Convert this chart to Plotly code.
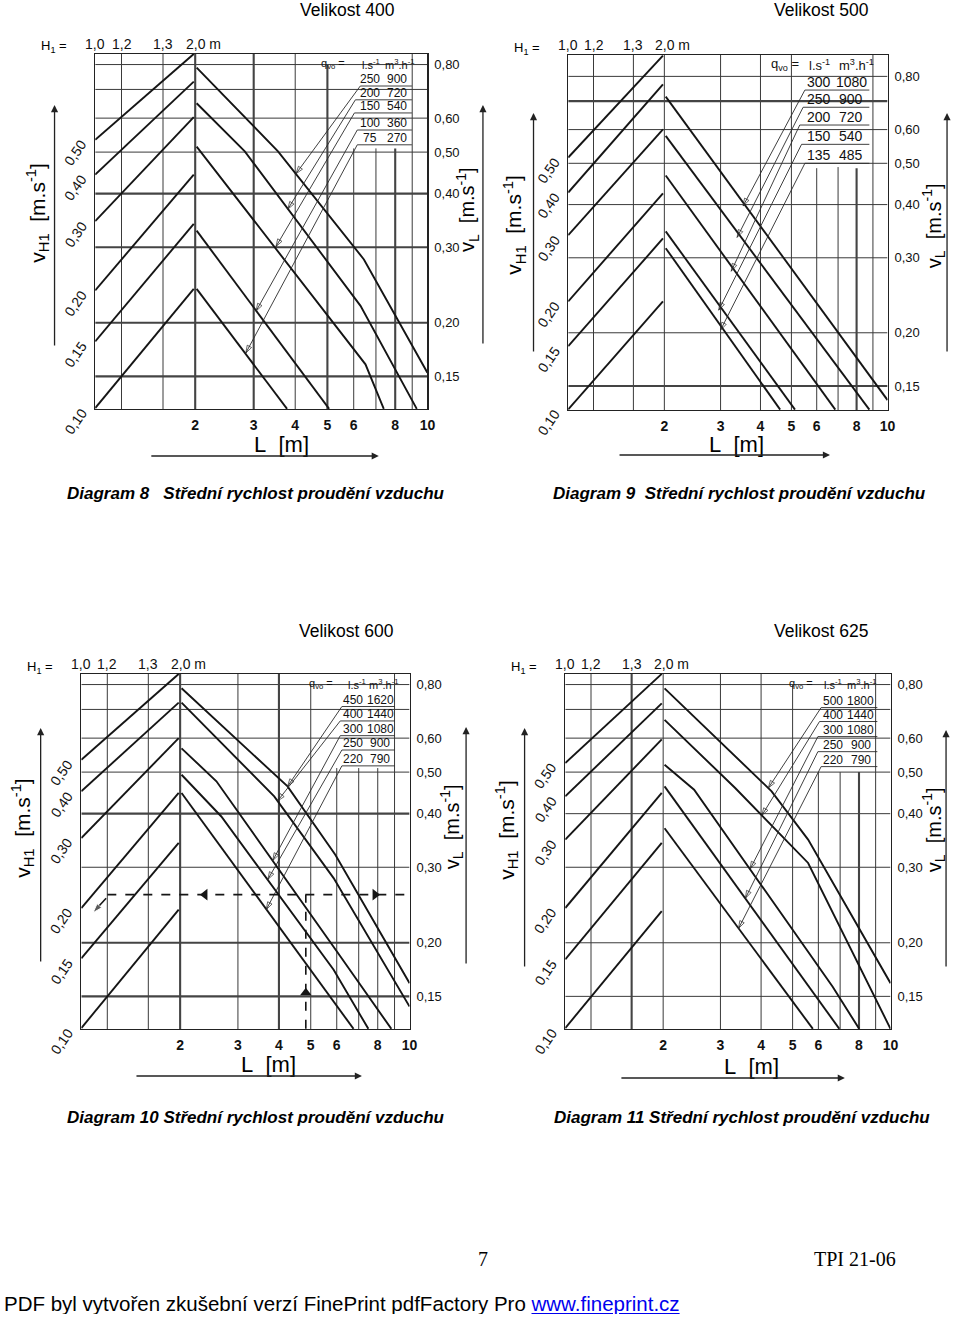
import numpy as np
import plotly.graph_objects as go

W, H = 960, 1320          # page (window) size
FW, FH = 960, 1314        # figure size (kept inside the window; body margin removed)

# ---------------- shared scales / labels ----------------
L_ticks = [2, 3, 4, 5, 6, 8, 10]
vL_ticks = [0.15, 0.2, 0.3, 0.4, 0.5, 0.6, 0.8]
vL_tick_text = ['0,15', '0,20', '0,30', '0,40', '0,50', '0,60', '0,80']
h_grid_v = [0.8, 0.7, 0.6, 0.5, 0.4, 0.3, 0.2, 0.15]
v_grid_L = [1.2, 1.6, 2, 3, 4, 5, 6, 7, 8, 9]
h1_L = [1.0, 1.2, 1.6, 2.0]
h1_text = ['1,0', '1,2', '1,3', '2,0 m']
vH1_text = ['0,50', '0,40', '0,30', '0,20', '0,15', '0,10']
rise_L = [1.0, 1.98]

# ---------------- Diagram 8 (Velikost 400) ----------------
d8_rise_start = [0.534, 0.443, 0.345, 0.238, 0.181, 0.1265]
d8_rise_end = [0.847, 0.730, 0.603, 0.443, 0.340, 0.240]
d8_fall_L = [[2.02, 3.55, 6.44, 10.0], [2.02, 2.82, 6.29, 9.29], [2.02, 6.51, 7.39], [2.02, 5.06], [2.02, 3.78]]
d8_fall_v = [[0.787, 0.502, 0.281, 0.153], [0.650, 0.502, 0.219, 0.126], [0.515, 0.160, 0.126], [0.328, 0.126], [0.240, 0.126]]
d8_q_ls = [250, 200, 150, 100, 75]
d8_q_m3h = [900, 720, 540, 360, 270]
d8_lead_L = [[8.98, 6.28, 4.02], [8.98, 6.07, 3.80], [8.98, 6.03, 3.50], [8.98, 6.15, 3.05], [8.98, 6.15, 2.84]]
d8_lead_v = [[0.713, 0.713, 0.445], [0.662, 0.662, 0.368], [0.617, 0.617, 0.301], [0.563, 0.563, 0.213], [0.520, 0.520, 0.170]]
d8_vgrid_top = [None, None, None, None, None, 0.80, 0.51, 0.51, 0.51, None]

# ---------------- Diagram 9 (Velikost 500) ----------------
d9_rise_start = [0.516, 0.427, 0.339, 0.237, 0.186, 0.1322]
d9_rise_end = [0.895, 0.766, 0.601, 0.425, 0.333, 0.237]
d9_fall_L = [[2.02, 10.0], [2.02, 8.77], [2.02, 6.86], [2.02, 5.13], [2.02, 4.61]]
d9_fall_v = [[0.717, 0.139], [0.580, 0.132], [0.468, 0.132], [0.346, 0.132], [0.316, 0.132]]
d9_q_ls = [300, 250, 200, 150, 135]
d9_q_m3h = [1080, 900, 720, 540, 485]
d9_lead_L = [[8.77, 5.51, 3.53], [8.77, 5.44, 3.38], [8.77, 5.31, 3.24], [8.77, 5.38, 2.96], [8.77, 5.51, 3.00]]
d9_lead_v = [[0.743, 0.743, 0.397], [0.677, 0.677, 0.335], [0.615, 0.615, 0.279], [0.554, 0.554, 0.226], [0.500, 0.500, 0.203]]
d9_vgrid_top = [None, None, None, None, None, None, 0.487, 0.49, 0.487, None]

# ---------------- Diagram 10 (Velikost 600) ----------------
d10_rise_start = [0.534, 0.451, 0.351, 0.241, 0.184, 0.1265]
d10_rise_end = [0.847, 0.726, 0.600, 0.447, 0.342, 0.239]
d10_fall_L = [[2.02, 4.25, 5.94, 10.0], [2.02, 3.87, 5.87, 10.0], [2.02, 2.58, 6.15, 8.80], [2.02, 2.67, 5.87, 7.49], [2.02, 6.75]]
d10_fall_v = [[0.784, 0.463, 0.321, 0.161], [0.726, 0.439, 0.283, 0.142], [0.568, 0.476, 0.186, 0.126], [0.493, 0.394, 0.173, 0.126], [0.447, 0.126]]
d10_q_ls = [450, 400, 300, 250, 220]
d10_q_m3h = [1620, 1440, 1080, 900, 790]
d10_lead_L = [[9.01, 6.22, 4.25], [9.01, 6.15, 3.96], [9.01, 6.15, 3.83], [9.01, 6.22, 3.70], [9.01, 6.22, 3.66]]
d10_lead_v = [[0.711, 0.711, 0.463], [0.658, 0.658, 0.428], [0.608, 0.608, 0.311], [0.563, 0.563, 0.281], [0.517, 0.517, 0.239]]
d10_vgrid_top = [None, None, None, None, None, 0.80, 0.511, 0.511, 0.511, None]
# worked example (dashed path)
d10_path_L = [1.20, 10.0]
d10_path_v = [0.259, 0.259]
d10_vert_L = [4.83, 4.83]
d10_vert_v = [0.126, 0.259]
d10_arrow_L = [2.38, 7.85, 4.83]
d10_arrow_v = [0.259, 0.259, 0.153]
d10_diag_L = [1.19, 1.085]
d10_diag_v = [0.254, 0.235]

# ---------------- Diagram 11 (Velikost 625) ----------------
d11_rise_start = [0.525, 0.439, 0.348, 0.241, 0.183, 0.1265]
d11_rise_end = [0.847, 0.723, 0.596, 0.447, 0.342, 0.237]
d11_fall_L = [[2.02, 4.31, 5.58, 10.0], [2.02, 3.33, 5.58, 10.0], [2.02, 2.49, 6.64, 8.01], [2.02, 6.96], [2.02, 5.77]]
d11_fall_v = [[0.784, 0.451, 0.348, 0.161], [0.662, 0.459, 0.307, 0.126], [0.520, 0.455, 0.158, 0.126], [0.463, 0.126], [0.370, 0.126]]
d11_q_ls = [500, 400, 300, 250, 220]
d11_q_m3h = [1800, 1440, 1080, 900, 790]
d11_lead_L = [[9.11, 6.12, 4.21], [9.11, 6.05, 4.02], [9.11, 5.98, 3.70], [9.11, 5.98, 3.58], [9.11, 6.12, 3.41]]
d11_lead_v = [[0.707, 0.707, 0.459], [0.656, 0.656, 0.396], [0.605, 0.605, 0.297], [0.558, 0.558, 0.254], [0.515, 0.515, 0.216]]
d11_vgrid_top = [None, None, None, None, None, 0.80, 0.50, 0.50, 0.50, None]

# ---------------- layout / style configuration ----------------
SANS = 'Liberation Sans, Arial, sans-serif'
NARROW = 'Liberation Sans Narrow, Liberation Sans, Arial, sans-serif'
SERIF = 'Liberation Serif, Times New Roman, serif'
INK = '#151515'
GRID = '#3a3a3a'
NB = '\u00a0'

DIAGRAMS = [
    dict(box=(96, 431, 54, 409), yr=(-0.9, -0.0723), rs=d8_rise_start, re=d8_rise_end,
         fL=d8_fall_L, fv=d8_fall_v, q1=d8_q_ls, q2=d8_q_m3h, lL=d8_lead_L, lv=d8_lead_v,
         vtop=d8_vgrid_top, thick_v=[2, 3, 5, 8], thick_h=[0.4, 0.3, 0.2, 0.15],
         cols=(0.716, 0.829, 0.916, 0.827, 0.908), tsize=12, hsize=11,
         title='Velikost 400', title_xy=(350, 10),
         cap='Diagram 8' + NB * 3 + 'Střední rychlost proudění vzduchu', cap_xy=(258, 493),
         larrow=(55, 347, 55, 105), rarrow=(487, 345, 487, 105), barrow=(153, 456, 382, 456),
         ltitle=(37, 213), rtitle=(471, 210), Ltitle=(284, 444)),
    dict(box=(573, 895, 55, 410), yr=(-0.8803, -0.0467), rs=d9_rise_start, re=d9_rise_end,
         fL=d9_fall_L, fv=d9_fall_v, q1=d9_q_ls, q2=d9_q_m3h, lL=d9_lead_L, lv=d9_lead_v,
         vtop=d9_vgrid_top, thick_v=[8], thick_h=[0.7, 0.15],
         cols=(0.679, 0.788, 0.904, 0.785, 0.886), tsize=14, hsize=13,
         title='Velikost 500', title_xy=(828, 10),
         cap='Diagram 9' + NB * 2 + 'Střední rychlost proudění vzduchu', cap_xy=(746, 493),
         larrow=(538, 353, 538, 113), rarrow=(955, 353, 955, 113), barrow=(625, 455, 837, 455),
         ltitle=(518, 225), rtitle=(941, 226), Ltitle=(743, 444)),
    dict(box=(82, 413, 674, 1029), yr=(-0.9, -0.0723), rs=d10_rise_start, re=d10_rise_end,
         fL=d10_fall_L, fv=d10_fall_v, q1=d10_q_ls, q2=d10_q_m3h, lL=d10_lead_L, lv=d10_lead_v,
         vtop=d10_vgrid_top, thick_v=[2, 4], thick_h=[0.4, 0.2, 0.15],
         cols=(0.729, 0.839, 0.920, 0.829, 0.910), tsize=12, hsize=11,
         title='Velikost 600', title_xy=(349, 631),
         cap='Diagram 10 Střední rychlost proudění vzduchu', cap_xy=(258, 1117),
         larrow=(41, 963, 41, 728), rarrow=(470, 965, 470, 727), barrow=(138, 1076, 365, 1076),
         ltitle=(22, 828), rtitle=(455, 827), Ltitle=(271, 1064)),
    dict(box=(570, 898, 674, 1029), yr=(-0.9, -0.0723), rs=d11_rise_start, re=d11_rise_end,
         fL=d11_fall_L, fv=d11_fall_v, q1=d11_q_ls, q2=d11_q_m3h, lL=d11_lead_L, lv=d11_lead_v,
         vtop=d11_vgrid_top, thick_v=[1.6, 8], thick_h=[],
         cols=(0.726, 0.824, 0.912, 0.824, 0.909), tsize=12, hsize=11,
         title='Velikost 625', title_xy=(828, 631),
         cap='Diagram 11 Střední rychlost proudění vzduchu', cap_xy=(748, 1117),
         larrow=(529, 968, 529, 728), rarrow=(954, 968, 954, 730), barrow=(627, 1078, 852, 1078),
         ltitle=(510, 830), rtitle=(941, 830), Ltitle=(758, 1066)),
]

fig = go.Figure()
annotations = []


def pax(px):
    return px / FW


def pay(py):
    return 1 - py / FH


def text(px, py, s, size, family=SANS, angle=0, xanchor='center', yanchor='middle', color='#000'):
    annotations.append(dict(x=pax(px), y=pay(py), xref='paper', yref='paper', text=s,
                            showarrow=False, textangle=angle, xanchor=xanchor, yanchor=yanchor,
                            font=dict(size=size, family=family, color=color)))


def arrow(x0, y0, x1, y1):
    # head at (x1, y1), tail offset in pixels
    annotations.append(dict(x=pax(x1), y=pay(y1), ax=x0 - x1, ay=y0 - y1, xref='paper', yref='paper',
                            axref='pixel', ayref='pixel', text='', showarrow=True, arrowhead=2,
                            arrowsize=1.1, arrowwidth=1.3, arrowcolor='#222'))


def seg_trace(xs, ys, xn, yn, width, color, dash='solid'):
    fig.add_trace(go.Scatter(x=xs, y=ys, xaxis=xn, yaxis=yn, mode='lines', hoverinfo='skip',
                             line=dict(color=color, width=width, dash=dash), showlegend=False))


layout_axes = {}
for i, d in enumerate(DIAGRAMS, 1):
    xn = 'x' if i == 1 else f'x{i}'
    yn = 'y' if i == 1 else f'y{i}'
    left, right, top, bottom = d['box']
    yb, yt = 10 ** d['yr'][0], 10 ** d['yr'][1]

    # grid
    thin_x, thin_y, thick_x, thick_y = [], [], [], []
    for v in h_grid_v:
        tx, ty = (thick_x, thick_y) if v in d['thick_h'] else (thin_x, thin_y)
        tx += [1.0, 10.0, None]
        ty += [v, v, None]
    for L, vt in zip(v_grid_L, d['vtop']):
        tx, ty = (thick_x, thick_y) if L in d['thick_v'] else (thin_x, thin_y)
        tx += [L, L, None]
        ty += [yb, vt if vt else yt, None]
    seg_trace(thin_x, thin_y, xn, yn, 1.0, GRID)
    seg_trace(thick_x, thick_y, xn, yn, 2.1, '#444')

    # rising lines (v_H1 side)
    rx, ry = [], []
    for s, e in zip(d['rs'], d['re']):
        rx += rise_L + [None]
        ry += [s, e, None]
    seg_trace(rx, ry, xn, yn, 1.9, INK)

    # falling lines (L side)
    fx, fy = [], []
    for Ls, vs in zip(d['fL'], d['fv']):
        fx += Ls + [None]
        fy += vs + [None]
    seg_trace(fx, fy, xn, yn, 1.9, INK)

    # q_vo table underlines + leader lines with arrowheads
    for Ls, vs in zip(d['lL'], d['lv']):
        fig.add_trace(go.Scatter(x=Ls, y=vs, xaxis=xn, yaxis=yn, mode='lines+markers', hoverinfo='skip',
                                 line=dict(color='#2a2a2a', width=0.9), showlegend=False,
                                 marker=dict(symbol='arrow-open', size=[0, 0, 8], angleref='previous',
                                             color='#2a2a2a', line=dict(width=1, color='#2a2a2a'))))

    # axes
    sfx = '' if i == 1 else str(i)
    layout_axes['xaxis' + sfx] = dict(
        type='log', range=[0, 1], domain=[pax(left), pax(right)], anchor=yn,
        tickmode='array', tickvals=L_ticks, ticktext=[str(t) for t in L_ticks], ticks='',
        showgrid=False, zeroline=False, showline=True, mirror=True, linecolor='#222', linewidth=1.3,
        tickfont=dict(family=SANS, size=14, color='#111', weight='bold'), ticklabelstandoff=3,
        fixedrange=True)
    layout_axes['yaxis' + sfx] = dict(
        type='log', range=list(d['yr']), domain=[pay(bottom), pay(top)], anchor=xn, side='right',
        tickmode='array', tickvals=vL_ticks, ticktext=vL_tick_text, ticks='',
        showgrid=False, zeroline=False, showline=True, mirror=True, linecolor='#222', linewidth=1.3,
        tickfont=dict(family=NARROW, size=13, color='#111'), ticklabelstandoff=3, fixedrange=True)

    # v_H1 labels at starts of rising lines
    for t, s in zip(vH1_text, d['rs']):
        annotations.append(dict(x=0, y=np.log10(s), xref=f'{xn} domain', yref=yn, text=t,
                                showarrow=False, textangle=-55, xanchor='right', yanchor='top',
                                xshift=-3, yshift=5, font=dict(family=NARROW, size=14, color='#111')))
    # H1 labels on top
    for t, L in zip(h1_text, h1_L):
        xa = 'left' if t.endswith('m') else 'center'
        annotations.append(dict(x=np.log10(L), y=1, xref=xn, yref=f'{yn} domain', text=t,
                                showarrow=False, xanchor=xa, yanchor='bottom', yshift=0,
                                xshift=-11 if xa == 'left' else 0,
                                font=dict(family=SANS, size=14, color='#111')))
    text(left - 42, top - 7, 'H<sub>1</sub> =', 13)

    # table header and rows
    c = d['cols']
    hdr_font = dict(family=NARROW, size=d['hsize'], color='#111')
    row_font = dict(family=SANS, size=d['tsize'], color='#111')
    for xpos, t in zip(c[:3], ['q<sub>vo</sub> =', 'l.s<sup>-1</sup>', 'm<sup>3</sup>.h<sup>-1</sup>']):
        annotations.append(dict(x=xpos, y=0.972, xref=f'{xn} domain', yref=f'{yn} domain', text=t,
                                showarrow=False, xanchor='center', yanchor='middle', font=hdr_font))
    for a, b, vs in zip(d['q1'], d['q2'], d['lv']):
        for xpos, t in ((c[3], str(a)), (c[4], str(b))):
            annotations.append(dict(x=xpos, y=np.log10(vs[0]), xref=f'{xn} domain', yref=yn, text=t,
                                    showarrow=False, xanchor='center', yanchor='bottom', yshift=-2,
                                    font=row_font))

    # titles, captions, axis titles, arrows
    text(*d['title_xy'], d['title'], 17.5)
    text(*d['cap_xy'], '<b><i>' + d['cap'] + '</i></b>', 17)
    text(*d['ltitle'], 'v<sub>H1</sub>' + NB * 2 + '[m.s<sup>-1</sup>]', 21, angle=-90)
    text(*d['rtitle'], 'v<sub>L</sub>' + NB * 2 + '[m.s<sup>-1</sup>]', 20, angle=-90)
    text(*d['Ltitle'], 'L' + NB * 2 + '[m]', 22)
    arrow(*d['larrow'])
    arrow(*d['rarrow'])
    arrow(*d['barrow'])

# worked example in diagram 10 (dashed)
seg_trace(d10_path_L, d10_path_v, 'x3', 'y3', 1.6, INK, dash='dash')
seg_trace(d10_vert_L, d10_vert_v, 'x3', 'y3', 1.6, INK, dash='dash')
fig.add_trace(go.Scatter(x=d10_arrow_L, y=d10_arrow_v, xaxis='x3', yaxis='y3', mode='markers',
                         hoverinfo='skip', showlegend=False,
                         marker=dict(symbol=['triangle-left', 'triangle-right', 'triangle-up'],
                                     size=10, color=INK)))
fig.add_trace(go.Scatter(x=d10_diag_L, y=d10_diag_v, xaxis='x3', yaxis='y3', mode='lines+markers',
                         hoverinfo='skip', showlegend=False, line=dict(color=INK, width=1.6),
                         marker=dict(symbol='arrow', size=[0, 10], angleref='previous', color=INK)))

# page footer
text(487, 1259, '7', 20, family=SERIF)
text(862, 1259, 'TPI 21-06', 20, family=SERIF)
text(2, 1303, 'PDF byl vytvořen zkušební verzí FinePrint pdfFactory Pro '
     '<span style="color:#0000ee"><u>www.fineprint.cz</u></span>', 20.5, xanchor='left')

fig.update_layout(width=FW, height=FH, margin=dict(l=0, r=0, t=0, b=0),
                  paper_bgcolor='white', plot_bgcolor='white', showlegend=False,
                  hovermode=False, annotations=annotations, **layout_axes)

fig.write_html("out.html", config={'displayModeBar': False, 'staticPlot': True},
               post_script="document.body.style.margin='0px';document.body.style.overflow='hidden';")
